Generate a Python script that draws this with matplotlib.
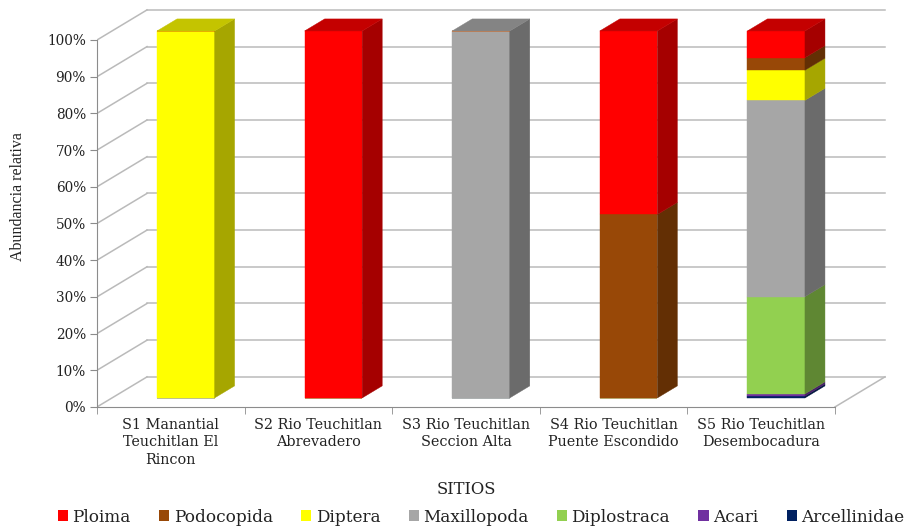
import numpy as np
import matplotlib.pyplot as plt
from matplotlib.patches import Polygon, Patch
from matplotlib.ticker import FuncFormatter

plt.rcParams['font.family'] = ['DejaVu Serif', 'Liberation Serif']

# Sampling sites and relative abundance (%) per taxon
sitios = [
    'S1 Manantial\nTeuchitlan El\nRincon',
    'S2 Rio Teuchitlan\nAbrevadero',
    'S3 Rio Teuchitlan\nSeccion Alta',
    'S4 Rio Teuchitlan\nPuente Escondido',
    'S5 Rio Teuchitlan\nDesembocadura',
]
taxa = ['Ploima', 'Podocopida', 'Diptera', 'Maxillopoda',
        'Diplostraca', 'Acari', 'Arcellinidae']
ploima = [0, 100, 0, 50, 7.3]
podocopida = [0, 0, 0, 50, 3.4]
diptera = [100, 0, 0, 0, 8.2]
maxillopoda = [0, 0, 100, 0, 53.5]
diplostraca = [0, 0, 0, 0, 26.5]
acari = [0, 0, 0, 0, 0.6]
arcellinidae = [0, 0, 0, 0, 0.5]

# front / side / top colours per taxon
colores = {
    'Ploima': ('#FF0000', '#A50000', '#C40000'),
    'Podocopida': ('#984807', '#632F04', '#7A3A05'),
    'Diptera': ('#FFFF00', '#A6A600', '#C4C400'),
    'Maxillopoda': ('#A6A6A6', '#6B6B6B', '#848484'),
    'Diplostraca': ('#92D050', '#5F8733', '#74A63F'),
    'Acari': ('#7030A0', '#491F68', '#58267E'),
    'Arcellinidae': ('#002060', '#00153E', '#001A4C'),
}
valores = {
    'Ploima': ploima, 'Podocopida': podocopida, 'Diptera': diptera,
    'Maxillopoda': maxillopoda, 'Diplostraca': diplostraca,
    'Acari': acari, 'Arcellinidae': arcellinidae,
}

# oblique projection of the depth axis, in data units
DX, DY = 0.339, 8.2
BAR_W = 0.39
BAR_Z0, BAR_DZ = 0.3, 0.4
GRID = '#BABABA'
AXIS = '#8C8C8C'
TXT = '#222222'

fig = plt.figure(figsize=(9.07, 5.27), dpi=100)
ax = fig.add_axes([97 / 907, (527 - 414.3) / 527, 797 / 907, 411 / 527])
n = len(sitios)
ax.set_xlim(0, 5.4)
ax.set_ylim(-2, 110)

# walls: back gridlines, left wall diagonals, floor edge
for v in range(0, 101, 10):
    ax.plot([DX, n + DX], [v + DY, v + DY], color=GRID, lw=1.1, zorder=1)
    ax.plot([0, DX], [v, v + DY], color=GRID, lw=1.1, zorder=1)
ax.plot([n, n + DX], [0, DY], color=GRID, lw=1.1, zorder=1)

# stacked 3D columns, bottom to top
orden = taxa[::-1]
ox, oy = BAR_Z0 * DX, BAR_Z0 * DY
sx, sy = BAR_DZ * DX, BAR_DZ * DY
base = np.zeros(n)
for t in orden:
    vals = np.array(valores[t], dtype=float)
    fc, sc, tc = colores[t]
    xs = np.arange(n) + 0.5 + ox
    ax.bar(xs, vals, BAR_W, bottom=base + oy, color=fc,
           edgecolor=fc, lw=0.3, zorder=3)
    for i in range(n):
        if vals[i] <= 0:
            continue
        xr = xs[i] + BAR_W / 2
        y0, y1 = base[i] + oy, base[i] + vals[i] + oy
        ax.add_patch(Polygon([(xr, y0), (xr + sx, y0 + sy),
                              (xr + sx, y1 + sy), (xr, y1)],
                             closed=True, fc=sc, ec=sc, lw=0.3, zorder=3))
    base += vals

# top faces
for i in range(n):
    xl = i + 0.5 + ox - BAR_W / 2
    xr = xl + BAR_W
    y1 = base[i] + oy
    top_taxon = [t for t in orden if valores[t][i] > 0][-1]
    tc = colores[top_taxon][2]
    ax.add_patch(Polygon([(xl, y1), (xr, y1), (xr + sx, y1 + sy),
                          (xl + sx, y1 + sy)],
                         closed=True, fc=tc, ec=tc, lw=0.3, zorder=3))

# axes
for s in ['top', 'right']:
    ax.spines[s].set_visible(False)
ax.spines['left'].set_bounds(0, 100)
ax.spines['left'].set_color(AXIS)
ax.spines['bottom'].set_position(('data', 0))
ax.spines['bottom'].set_bounds(0, n)
ax.spines['bottom'].set_color(AXIS)

ax.set_yticks(range(0, 101, 10))
ax.yaxis.set_major_formatter(FuncFormatter(lambda v, p: f'{v:.0f}%'))
ax.tick_params(axis='y', length=5, color=AXIS, labelsize=9.8, pad=3,
               labelcolor=TXT)

ax.set_xticks(np.arange(n) + 0.5)
ax.set_xticklabels(sitios, fontsize=10.4, linespacing=1.3, color=TXT)
ax.set_xticks(np.arange(n + 1), minor=True)
ax.tick_params(axis='x', which='major', length=0, pad=8)
ax.tick_params(axis='x', which='minor', length=5, color=AXIS)

ax.set_ylabel('Abundancia relativa', fontsize=11.5, family='Liberation Serif',
              color=TXT)
ax.yaxis.set_label_coords(-0.089, 0.529)
fig.text(466 / 907, 1 - 489 / 527, 'SITIOS', ha='center', va='center',
         fontsize=11.8, color=TXT)

handles = [Patch(fc=colores[t][0], ec='none') for t in taxa]
leg = fig.legend(handles, taxa, loc='center',
                 bbox_to_anchor=(481 / 907, 1 - 517 / 527),
                 ncol=7, frameon=False, fontsize=12.2, handlelength=0.6,
                 handleheight=0.6, handletextpad=0.25, columnspacing=1.68)
for txt in leg.get_texts():
    txt.set_color(TXT)

fig.savefig('out.png', dpi=100)
